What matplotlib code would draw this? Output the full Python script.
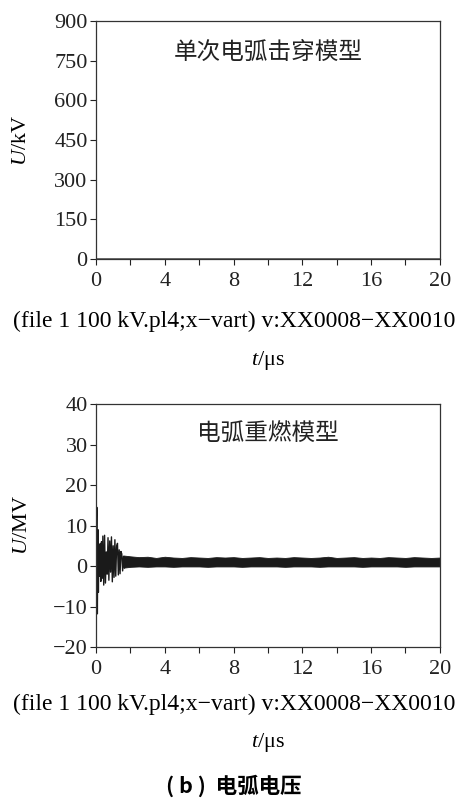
import numpy as np
import matplotlib.pyplot as plt
from matplotlib.ticker import MultipleLocator

plt.rcParams['font.family'] = ['Liberation Serif', 'Noto Sans CJK SC']
plt.rcParams['mathtext.fontset'] = 'custom'
plt.rcParams['mathtext.rm'] = 'Liberation Serif'
plt.rcParams['mathtext.it'] = 'Liberation Serif:italic'

# top panel: single breakdown model, trace stays at zero
t_single = [0, 20]
u_single = [0, 0]

# bottom panel: arc re-ignition, early oscillation (t in us, U in MV)
t_early = [0.00, 0.05, 0.08, 0.11, 0.14, 0.17, 0.20, 0.24, 0.28, 0.32, 0.36,
           0.40, 0.45, 0.50, 0.55, 0.60, 0.65, 0.70, 0.75, 0.80, 0.85, 0.90, 0.95,
           1.00, 1.05, 1.10, 1.15, 1.20, 1.25, 1.30, 1.35, 1.40, 1.45, 1.50, 1.55,
           1.60, 1.65, 1.70]
u_early = [0.0, 14.5, -11.8, 9.0, -6.5, 4.0, -2.5, 5.5, -3.8, 6.0, -3.0, 7.4,
           -4.7, 7.6, -4.2, 3.5, -2.0, 7.0, -3.5, 6.2, -1.5, 7.2, -3.9,
           5.0, -2.8, 6.5, -2.5, 4.8, 5.6, -2.2, 4.0, -1.9, 3.6, 3.0, -1.2,
           2.4, -0.5, 1.8]

# envelope of the dense steady part
t_env = [1.6, 2.0, 2.5, 3.0, 3.5, 4.0, 4.5, 5.0, 5.5, 6.0, 6.5, 7.0, 7.5, 8.0,
         8.5, 9.0, 9.5, 10.0, 10.5, 11.0, 11.5, 12.0, 12.5, 13.0, 13.5, 14.0,
         14.5, 15.0, 15.5, 16.0, 16.5, 17.0, 17.5, 18.0, 18.5, 19.0, 19.5, 20.0]
u_top = [2.6, 2.4, 2.2, 2.3, 2.0, 2.3, 2.1, 2.0, 2.2, 2.1, 2.0, 2.2, 2.1, 2.2,
         2.0, 2.1, 2.2, 2.0, 2.1, 2.0, 2.2, 2.1, 2.0, 2.1, 2.3, 2.0, 2.1, 2.2,
         2.0, 2.1, 2.0, 2.2, 2.1, 2.0, 2.2, 2.1, 2.0, 2.1]
u_bot = [-0.4, -0.2, -0.1, -0.2, -0.1, -0.1, -0.2, -0.1, -0.1, -0.1, -0.2, -0.1,
         -0.1, -0.1, -0.2, -0.1, -0.1, -0.1, -0.1, -0.2, -0.1, -0.1, -0.1, -0.2,
         -0.1, -0.1, -0.1, -0.1, -0.2, -0.1, -0.1, -0.1, -0.1, -0.2, -0.1, -0.1,
         -0.1, -0.1]

x_ticks = [0, 4, 8, 12, 16, 20]
file_text = '(file 1 100 kV.pl4;x\u2212vart) v:XX0008\u2212XX0010'
fs = 16

fig = plt.figure(figsize=(4.61, 7.99), dpi=100)
ax1 = fig.add_axes([0.2082, 0.6758, 0.746, 0.2979])
ax2 = fig.add_axes([0.2082, 0.1902, 0.746, 0.3041])

for ax in (ax1, ax2):
    ax.set_xlim(0, 20)
    ax.set_xticks(x_ticks)
    ax.xaxis.set_minor_locator(MultipleLocator(2))
    ax.tick_params(which='both', direction='out', length=4, width=0.8,
                   labelsize=fs, colors='#222222', pad=5)
    ax.tick_params(axis='y', pad=2)
    for s in ax.spines.values():
        s.set_color('#333333')
        s.set_linewidth(0.9)

ax1.plot(t_single, u_single, color='#555555', lw=1.2)
ax1.set_ylim(0, 900)
ax1.yaxis.set_major_locator(MultipleLocator(150))
ax1.text(0.5, 0.87, '单次电弧击穿模型', transform=ax1.transAxes, ha='center',
         va='center', fontsize=17, family=['Noto Sans CJK SC'], color='#222222')
ax1.set_ylabel('$U$/kV', fontsize=fs)
ax1.yaxis.set_label_coords(-0.19, 0.5)

ax2.fill_between(t_env, u_bot, u_top, color='#1a1a1a', lw=0.6)
ax2.plot(t_early, u_early, color='#1a1a1a', lw=1.0)
ax2.set_ylim(-20, 40)
ax2.yaxis.set_major_locator(MultipleLocator(10))
ax2.text(0.5, 0.88, '电弧重燃模型', transform=ax2.transAxes, ha='center',
         va='center', fontsize=17, family=['Noto Sans CJK SC'], color='#222222')
ax2.set_ylabel('$U$/MV', fontsize=fs)
ax2.yaxis.set_label_coords(-0.185, 0.5)

fig.text(0.508, 1 - 321 / 799, file_text, ha='center', va='center', fontsize=17)
fig.text(0.582, 1 - 360 / 799, '$t$/\u03bcs', ha='center', va='center', fontsize=fs)
fig.text(0.508, 1 - 704 / 799, file_text, ha='center', va='center', fontsize=17)
fig.text(0.582, 1 - 743 / 799, '$t$/\u03bcs', ha='center', va='center', fontsize=fs)
fig.text(0.508, 1 - 786 / 799, '( b )  电弧电压', ha='center', va='center',
         fontsize=15.5, fontweight='bold', family=['Noto Sans CJK SC'])

fig.savefig('out.png', dpi=100)
